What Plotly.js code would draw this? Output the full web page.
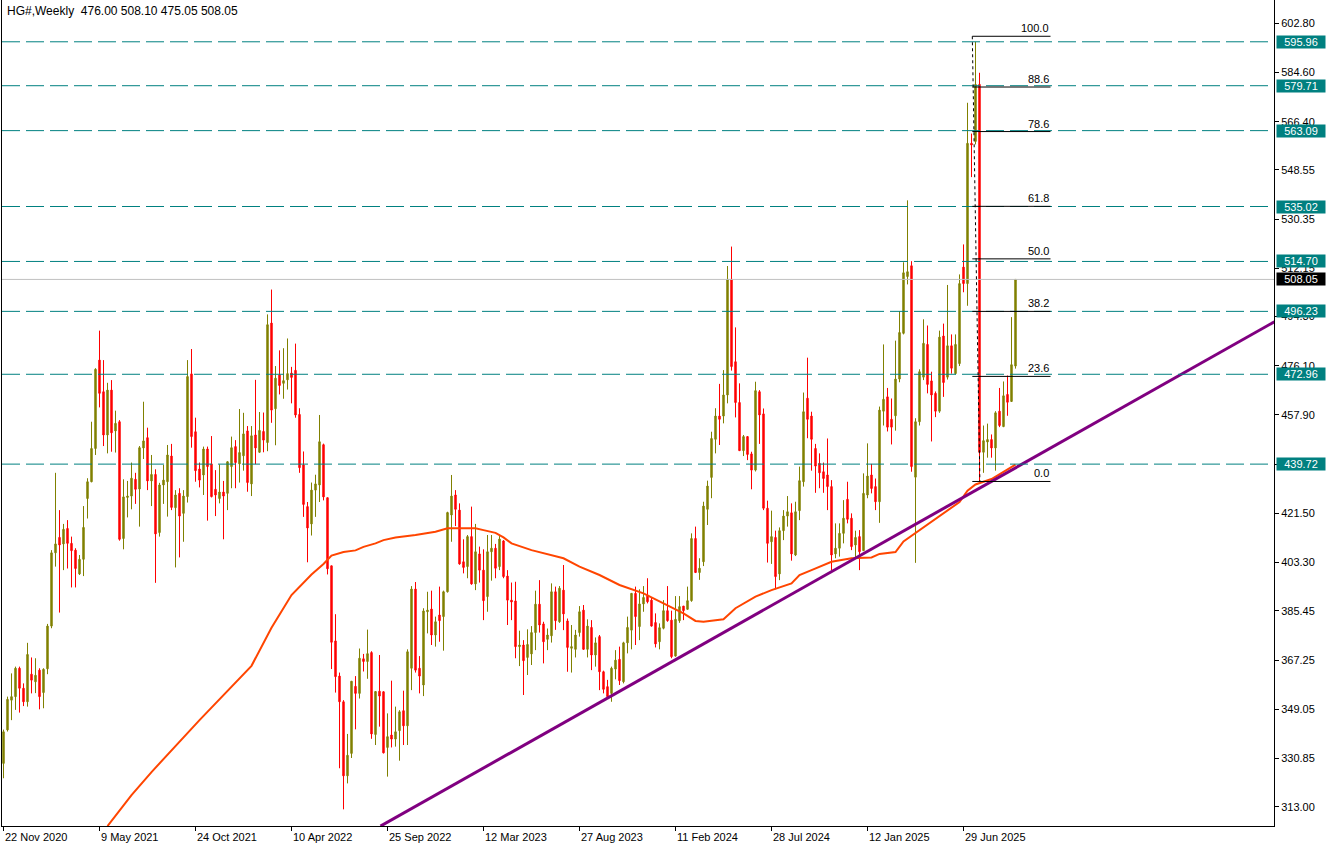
<!DOCTYPE html>
<html><head><meta charset="utf-8">
<script src="https://cdn.plot.ly/plotly-3.0.1.min.js"></script>
<style>html,body{margin:0;padding:0;background:#fff;}#chart{width:1331px;height:850px;}</style>
</head><body><div id="chart"></div>
<script>
// Weekly candles, index 0 = week of 22 Nov 2020
const openP = [
329.0,341.4,352.4,353.7,364.2,356.8,351.8,362.0,359.2,363.5,
355.2,364.0,379.8,406.9,412.6,410.2,415.9,410.4,407.9,399.1,
404.5,427.0,433.2,445.5,478.2,466.5,450.5,467.1,452.0,455.4,
412.2,427.4,427.9,434.1,430.5,445.7,449.5,433.5,435.9,414.4,
432.0,433.2,442.7,423.6,428.9,421.5,427.7,473.1,451.7,437.9,
435.7,445.3,439.8,430.4,427.0,429.4,428.9,438.8,446.2,439.8,
442.8,452.0,432.4,450.5,444.1,451.8,447.7,491.9,460.2,472.7,
469.6,470.9,473.4,474.4,458.1,439.4,424.0,417.6,430.1,432.0,
446.9,427.3,402.1,374.3,361.3,351.8,324.4,332.7,357.5,354.9,
367.7,366.7,370.0,339.7,355.7,355.5,334.9,339.5,338.0,341.1,
348.5,342.9,364.2,393.5,364.2,358.0,385.1,386.1,376.5,383.9,
383.3,392.5,420.9,428.3,422.7,403.6,401.8,412.9,395.4,406.5,
400.5,390.7,407.3,408.6,401.8,411.3,398.3,389.4,389.1,372.2,
372.8,368.2,369.5,377.4,387.9,380.6,374.9,376.2,392.5,381.4,
393.1,381.7,371.6,371.2,377.4,385.7,371.2,379.3,369.1,375.9,
362.9,357.4,354.9,363.9,367.5,359.2,373.6,378.3,391.9,379.6,
388.0,391.3,389.4,381.1,374.0,379.0,385.5,382.0,368.7,381.8,
387.2,386.0,389.2,412.2,399.6,403.6,423.0,434.8,448.9,457.5,
457.5,465.3,508.1,477.6,462.5,444.7,449.9,443.5,437.5,466.5,
458.3,423.4,411.0,412.6,399.1,415.1,420.5,421.7,406.1,422.5,
433.2,464.1,457.5,445.5,440.0,436.9,435.7,431.4,406.5,408.6,
414.1,426.7,419.7,409.8,412.9,407.7,428.3,435.7,431.4,425.8,
459.3,464.6,456.3,457.6,471.2,488.1,509.1,513.1,434.9,455.4,
471.9,484.0,470.5,465.9,459.3,487.1,471.9,483.5,473.2,476.9,
512.6,506.5,558.4,559.1,580.2,444.1,447.9,448.8,445.7,459.3,
453.6,465.5,462.9,476.00];
const highP = [
341.5,353.7,362.3,364.8,364.8,358.6,373.6,368.2,367.9,364.2,
364.2,380.6,407.9,436.5,422.7,417.6,419.0,412.9,408.6,406.1,
424.2,434.5,455.4,475.2,489.1,478.2,469.8,470.8,459.5,456.0,
434.1,433.5,440.3,436.5,446.4,462.8,453.2,443.1,437.8,432.8,
439.4,446.8,447.2,430.1,430.8,430.1,478.2,482.3,456.9,440.3,
446.2,446.2,450.1,437.5,439.6,433.5,440.8,449.9,448.6,460.1,
458.7,453.8,453.8,470.9,459.0,458.8,495.1,504.3,476.0,481.8,
482.6,486.2,475.7,484.3,460.4,444.4,425.7,432.9,435.8,457.9,
447.3,427.3,402.1,384.2,362.6,352.4,339.9,359.4,361.3,371.5,
369.5,378.5,370.5,355.6,369.1,355.7,347.5,359.6,350.0,348.7,
355.9,371.2,394.6,396.1,368.7,386.4,392.5,392.9,383.3,394.4,
392.9,422.1,435.7,430.1,425.2,411.9,413.5,424.0,417.6,409.2,
408.2,413.5,413.5,410.2,413.1,411.6,400.5,395.9,396.2,378.1,
374.6,378.6,379.8,392.9,396.8,381.4,378.9,395.6,394.4,394.6,
402.4,382.6,380.2,378.4,387.2,387.6,382.3,382.0,375.6,376.5,
363.3,359.9,364.8,370.9,372.2,374.0,383.3,392.0,394.4,393.4,
394.6,397.5,390.4,384.5,380.8,389.4,394.6,385.5,390.9,390.9,
387.2,394.4,414.1,416.6,404.9,425.8,433.6,451.7,460.4,469.4,
474.5,513.0,520.2,490.3,469.6,450.5,450.0,444.3,470.2,467.1,
460.3,426.2,422.5,415.1,416.3,422.7,427.9,425.2,425.8,438.8,
466.2,479.1,459.1,447.2,443.7,440.3,449.2,433.8,417.8,417.8,
426.4,433.2,421.5,415.1,415.3,436.3,447.4,439.8,434.4,461.0,
484.0,467.9,464.0,485.4,496.3,514.4,537.3,514.8,456.7,474.8,
493.3,491.0,473.9,466.6,489.1,491.7,506.0,487.7,487.7,509.9,
521.0,573.4,562.0,595.96,584.5,454.0,454.7,450.7,459.3,467.9,
470.3,472.5,494.1,508.10];
const lowP = [
323.5,340.8,345.0,348.8,347.8,350.2,350.0,354.9,355.0,349.0,
349.4,362.0,379.0,401.8,384.8,400.5,401.1,394.1,394.1,398.7,
398.3,419.6,433.0,443.1,460.7,446.4,443.7,444.3,444.0,411.4,
408.2,420.0,423.0,425.0,416.6,441.6,430.1,424.2,395.8,412.9,
425.0,420.3,422.7,401.5,405.2,411.0,425.5,445.8,433.2,431.1,
428.3,418.8,427.4,420.5,425.2,411.9,422.7,430.8,430.8,432.9,
437.3,429.5,427.9,439.7,443.9,444.1,444.5,455.0,446.7,465.5,
463.9,467.3,462.2,456.9,436.5,420.2,403.4,413.3,420.2,425.7,
426.3,398.9,363.9,355.2,327.2,312.0,321.6,331.0,341.6,353.0,
363.0,360.3,338.1,335.8,342.6,332.7,324.1,334.9,335.2,330.0,
335.8,335.8,356.1,362.6,354.9,353.9,377.1,372.8,372.2,374.0,
370.7,392.2,411.0,416.8,402.5,399.3,397.5,395.1,393.1,395.9,
382.0,385.1,396.6,397.5,400.5,397.5,380.2,382.0,367.9,365.0,
354.3,361.7,365.4,370.9,377.4,366.0,370.9,373.7,378.4,381.0,
378.3,362.9,362.6,368.2,375.9,371.0,368.2,363.5,364.8,356.1,
354.9,353.1,351.8,360.1,358.0,358.6,369.7,371.2,372.8,374.6,
385.1,388.2,379.6,371.9,371.2,378.6,381.4,367.9,368.5,381.0,
382.0,385.9,388.8,399.5,396.9,402.0,417.2,427.1,443.7,446.8,
454.8,462.2,474.3,457.0,444.6,442.7,441.2,430.4,437.0,447.2,
422.7,403.3,402.8,393.4,396.8,411.6,416.6,404.0,405.7,419.0,
431.4,449.3,437.3,429.1,430.8,429.1,422.7,400.5,404.9,405.5,
410.4,417.8,407.9,405.2,400.5,407.7,427.1,428.9,422.7,418.0,
454.0,451.8,447.0,452.1,470.0,487.7,506.2,436.9,403.2,454.0,
470.8,465.9,448.1,457.1,458.7,464.6,471.0,473.2,472.9,476.0,
503.3,498.3,545.9,558.0,433.5,436.5,442.1,442.1,437.3,453.4,
453.4,457.6,462.9,475.05];
const closeP = [
340.7,352.7,353.7,364.2,356.8,351.8,369.3,359.8,361.6,353.7,
363.8,379.8,406.9,410.2,409.8,415.6,410.4,407.7,401.1,404.5,
416.3,433.2,445.5,474.8,465.9,450.5,467.1,451.3,454.8,411.9,
427.6,427.9,434.5,430.4,445.8,448.3,433.5,435.9,413.9,432.0,
433.8,443.1,423.7,428.3,420.5,427.9,472.1,449.9,437.3,433.8,
445.3,438.8,427.7,428.3,429.4,427.9,440.6,445.8,440.3,444.0,
450.9,432.9,450.2,445.7,452.2,448.6,491.3,459.7,471.5,468.8,
470.6,473.2,471.8,457.9,438.4,424.8,416.1,430.1,432.4,448.0,
427.6,401.0,373.8,361.1,351.8,324.4,332.0,359.4,354.9,367.9,
366.7,369.6,339.9,355.6,353.9,332.9,338.9,338.0,340.7,348.1,
342.9,370.3,393.5,363.5,361.3,385.4,385.7,376.5,381.4,381.8,
392.5,421.8,427.9,423.0,402.8,401.5,412.9,395.4,407.3,400.5,
389.2,407.3,408.6,401.2,412.0,398.1,389.4,388.7,372.2,372.8,
367.0,373.0,377.4,387.9,380.2,374.0,376.5,392.5,381.8,393.8,
384.3,371.9,372.2,376.5,385.1,371.2,379.8,369.1,373.6,362.9,
356.4,353.7,364.2,367.2,359.6,373.6,379.3,391.9,383.3,388.0,
390.4,388.8,379.8,373.2,379.2,385.5,381.8,368.5,382.3,387.0,
385.5,389.2,412.2,399.6,401.2,424.2,431.6,449.2,457.5,456.3,
465.3,508.1,475.8,462.5,444.7,449.9,443.3,437.5,466.9,457.9,
423.4,410.4,412.9,398.1,415.1,420.5,422.1,406.5,422.1,433.6,
459.1,456.3,448.9,439.0,436.5,434.4,431.4,406.1,408.6,414.1,
419.7,419.3,409.2,412.6,407.3,428.9,435.3,430.7,425.8,459.7,
463.7,453.4,453.4,471.2,488.4,510.5,510.9,438.8,455.4,473.9,
484.4,469.2,465.3,459.3,486.7,469.9,483.5,475.2,484.0,506.5,
506.5,558.4,557.8,580.2,444.1,448.4,448.8,445.7,458.7,454.0,
465.0,462.6,476.5,508.05];

// Time axis labels (bar index of each label)
const dateLabels = ["22 Nov 2020","9 May 2021","24 Oct 2021","10 Apr 2022","25 Sep 2022","12 Mar 2023","27 Aug 2023","11 Feb 2024","28 Jul 2024","12 Jan 2025","29 Jun 2025"];
const dateLabelIdx = [0,24,48,72,96,120,144,168,192,216,240];

// Price axis ticks
const priceTicks = [602.80,584.60,566.40,548.55,530.35,512.15,494.30,476.10,457.90,439.70,421.50,403.30,385.45,367.25,349.05,330.85,313.00];

// Horizontal levels
const levelPrices = [595.96,579.71,563.09,535.02,514.70,496.23,472.96,439.72];
const bidPrice = 508.05;

// Fibonacci retracement
const fibRatios = [100.0,88.6,78.6,61.8,50.0,38.2,23.6,0.0];
const fibHigh = 598.0, fibLow = 433.3;
const fibHighIdx = 242.2, fibLowIdx = 244.1, fibEndIdx = 261.75;

// Moving average
const maIdx = [26,32,37,49,62,67,72,77,80,82,85,88,90,93,95,98,103,108,111,118,120,123,125,127,132,137,140,144,149,154,157,160,165,170,173,175,180,183,188,192,197,199,202,207,212,217,219,223,225,230,235,239,241,243,247,250,253];
const maVal = [305.8,317.3,325.8,345.0,365.1,379.2,391.3,398.9,402.8,405.9,407.2,407.8,409.1,410.4,411.6,412.6,413.5,414.7,416.0,416.0,415.3,414.3,412.6,410.4,407.9,406.1,404.9,401.8,398.7,395.0,393.4,391.9,388.2,384.5,381.7,381.4,382.3,386.4,390.7,393.1,395.6,398.7,400.5,403.6,404.9,405.2,406.5,407.2,411.1,416.4,421.7,425.7,429.9,432.2,434.2,436.9,439.5];

// Trend line anchors
const trendIdx = [94.25, 317.75];
const trendVal = [305.8, 492.4];

const symbol = "HG#,Weekly";

const n = closeP.length;
const idx = closeP.map((_, i) => i);
const FONT = 'Liberation Sans, Arial, sans-serif';

const traces = [
  {type:'candlestick', x:idx, open:openP, high:highP, low:lowP, close:closeP,
   increasing:{line:{color:'#808000', width:1}, fillcolor:'#808000'},
   decreasing:{line:{color:'#FF0000', width:1}, fillcolor:'#FF0000'},
   whiskerwidth:0, hoverinfo:'skip', showlegend:false},
  {type:'scatter', mode:'lines', x:maIdx, y:maVal, line:{color:'#FF4500', width:2}, hoverinfo:'skip', showlegend:false},
  {type:'scatter', mode:'lines', x:trendIdx, y:trendVal, line:{color:'#800080', width:3}, hoverinfo:'skip', showlegend:false}
];

const shapes = [];
levelPrices.forEach(v => shapes.push({type:'line', xref:'paper', x0:0, x1:1, yref:'y', y0:v, y1:v,
  line:{color:'#008080', width:1, dash:'18px,6px'}}));
shapes.push({type:'line', xref:'paper', x0:0, x1:1, yref:'y', y0:bidPrice, y1:bidPrice, line:{color:'#C0C0C0', width:1}});
fibRatios.forEach(r => {
  const v = fibLow + r/100*(fibHigh - fibLow);
  shapes.push({type:'line', xref:'x', x0:fibHighIdx, x1:fibEndIdx, yref:'y', y0:v, y1:v, line:{color:'#000', width:1}});
});
shapes.push({type:'line', xref:'x', x0:fibHighIdx, x1:fibLowIdx, yref:'y', y0:fibHigh, y1:fibLow, line:{color:'#000', width:1, dash:'dot'}});

const annotations = [];
// header
annotations.push({xref:'paper', yref:'paper', x:0, y:1, xanchor:'left', yanchor:'top', xshift:3, yshift:-2,
  text: symbol + '  ' + [openP[n-1], highP[n-1], lowP[n-1], closeP[n-1]].map(v => v.toFixed(2)).join(' '),
  showarrow:false, font:{family:FONT, size:12, color:'#000'}});
// date labels
dateLabels.forEach((t, k) => annotations.push({xref:'x', yref:'paper', x:dateLabelIdx[k], y:0, xanchor:'left', yanchor:'top',
  yshift:-3, xshift:-1, text:t, showarrow:false, font:{family:FONT, size:11, color:'#000'}}));
// level labels
levelPrices.forEach(v => annotations.push({xref:'paper', yref:'y', x:1, y:v, xanchor:'left', yanchor:'middle', xshift:2,
  text:v.toFixed(2), showarrow:false, bgcolor:'#008080', borderpad:0, width:48, align:'center',
  font:{family:FONT, size:11, color:'#fff'}}));
annotations.push({xref:'paper', yref:'y', x:1, y:bidPrice, xanchor:'left', yanchor:'middle', xshift:2,
  text:bidPrice.toFixed(2), showarrow:false, bgcolor:'#000', borderpad:0, width:48, align:'center',
  font:{family:FONT, size:11, color:'#fff'}});
// fib labels
fibRatios.forEach(r => {
  const v = fibLow + r/100*(fibHigh - fibLow);
  annotations.push({xref:'x', yref:'y', x:fibEndIdx, y:v, xanchor:'right', yanchor:'bottom', yshift:0,
    text:r.toFixed(1), showarrow:false, font:{family:FONT, size:11, color:'#000'}});
});

const layout = {
  width:1331, height:850, margin:{l:2, r:57, t:0, b:24},
  paper_bgcolor:'#ffffff', plot_bgcolor:'#ffffff', showlegend:false, boxgap:0.5,
  font:{family:FONT, size:11, color:'#000'},
  xaxis:{range:[-0.375, 317.625], tickvals:dateLabelIdx, ticks:'outside', ticklen:4, tickcolor:'#000',
    showticklabels:false, showgrid:false, zeroline:false, showline:true, linecolor:'#000', linewidth:1,
    mirror:false, rangeslider:{visible:false}, fixedrange:true},
  yaxis:{side:'right', range:[305.84, 611.42], tickvals:priceTicks, ticktext:priceTicks.map(v => v.toFixed(2)),
    ticks:'outside', ticklen:4, tickcolor:'#000', showgrid:false, zeroline:false, showline:true,
    linecolor:'#000', linewidth:1, mirror:true, tickfont:{family:FONT, size:11, color:'#000'}, fixedrange:true},
  shapes:shapes, annotations:annotations
};

Plotly.newPlot('chart', traces, layout, {displayModeBar:false, staticPlot:true});
</script>
</body></html>
